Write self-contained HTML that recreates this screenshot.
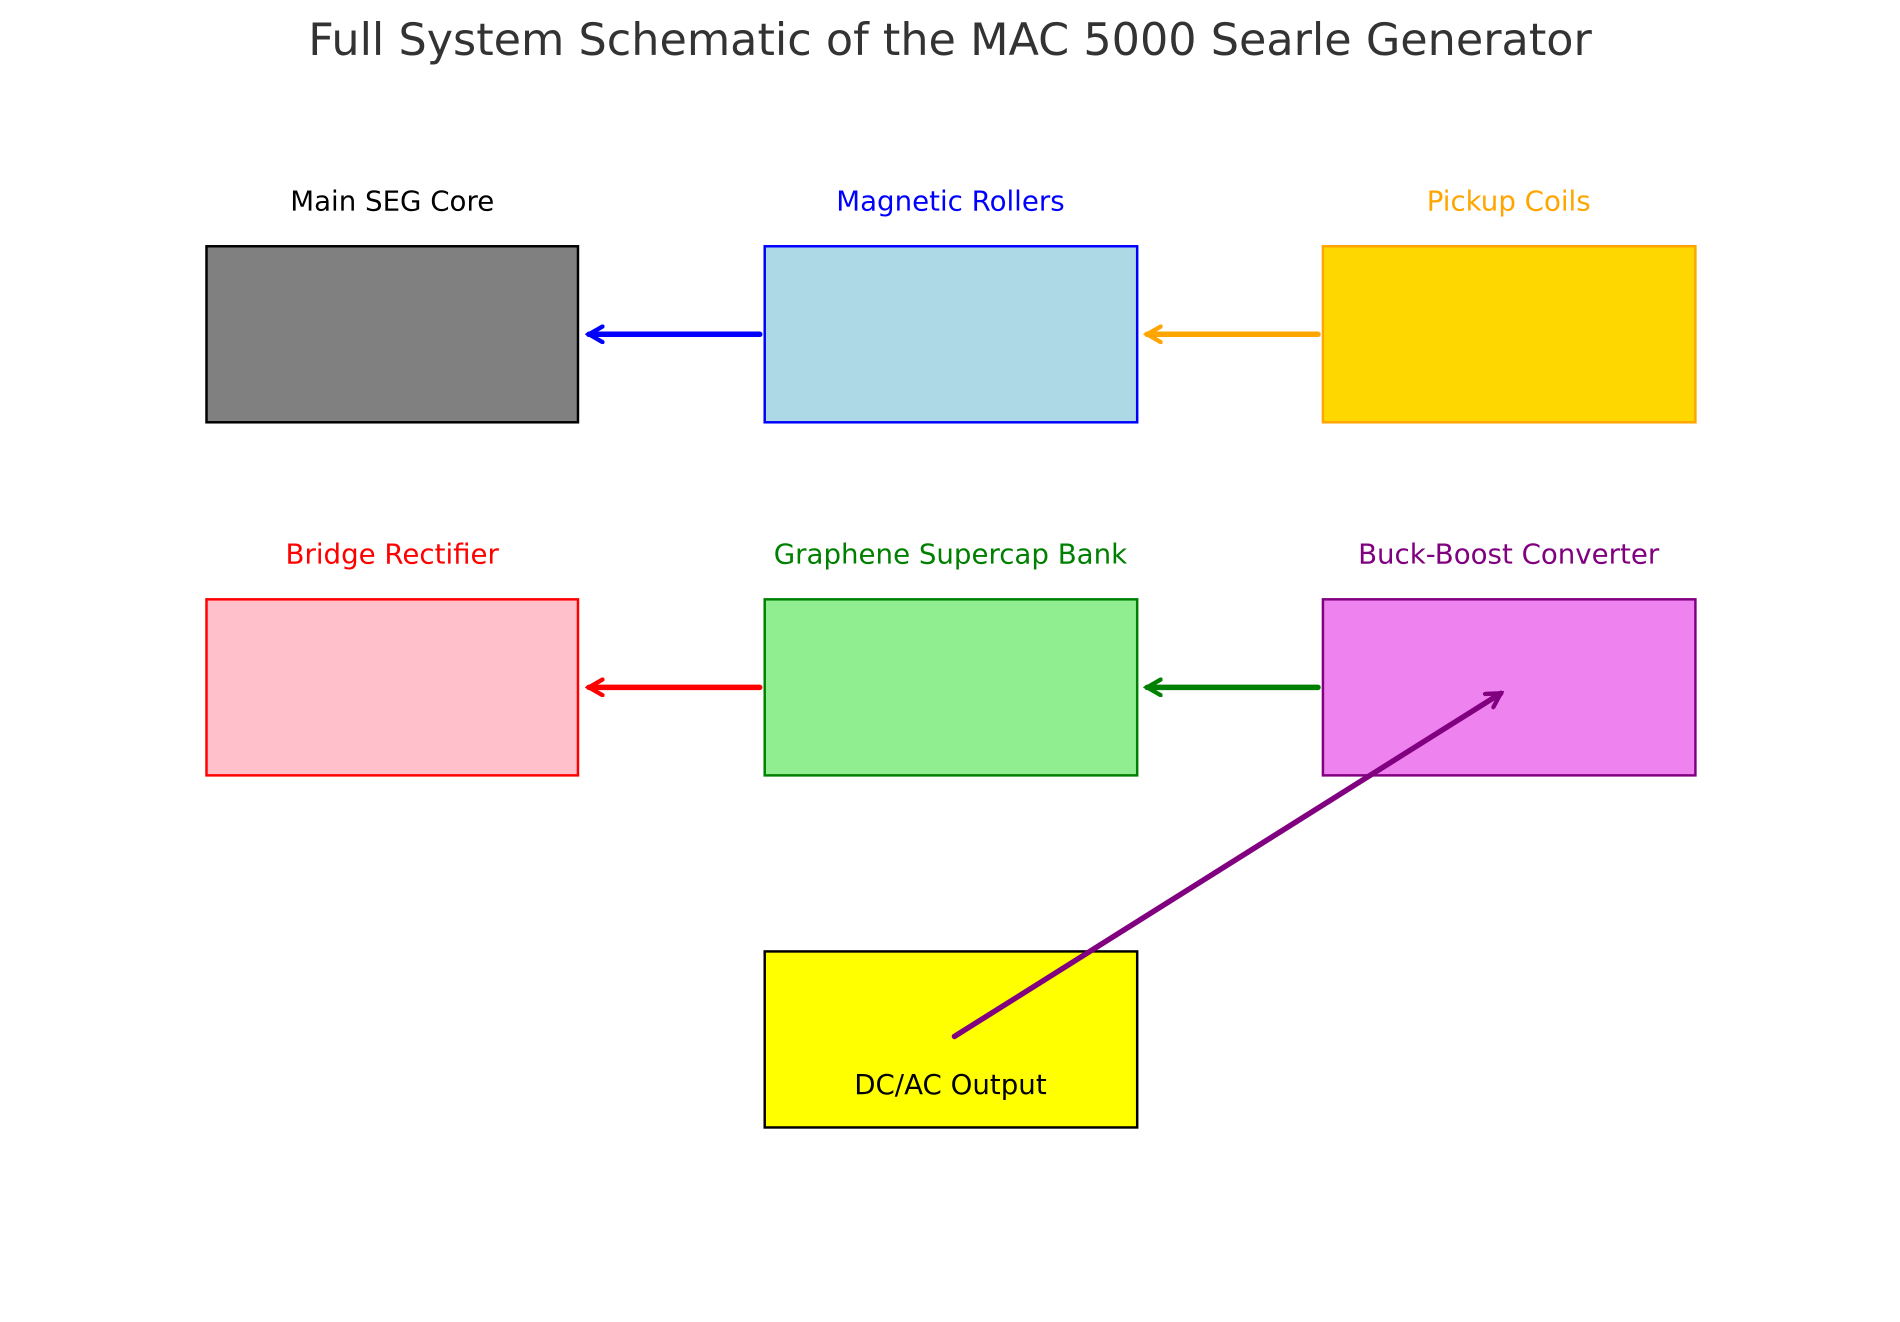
<!DOCTYPE html>
<html><head><meta charset="utf-8"><style>
html,body{margin:0;padding:0;background:#fff;}
svg{display:block;}
text{font-family:"DejaVu Sans","Liberation Sans",sans-serif;}
</style></head><body>
<svg width="1900" height="1322" viewBox="0 0 1900 1322" xmlns="http://www.w3.org/2000/svg">
<defs>
<marker id="a" viewBox="0 0 10 10" refX="8" refY="5" markerWidth="3.6" markerHeight="3.6" orient="auto"><path d="M1,1 L8,5 L1,9" fill="none" stroke="context-stroke" stroke-width="2.2" stroke-linecap="round"/></marker>
</defs>
<text x="950" y="55" font-size="44.5" fill="#333" text-anchor="middle">Full System Schematic of the MAC 5000 Searle Generator</text>
<g transform="scale(0.988,0.989)">
<g stroke-width="2.5">
<rect x="209" y="249" width="376" height="178" fill="#808080" stroke="#000"/>
<rect x="774" y="249" width="377" height="178" fill="#add8e6" stroke="#0000ff"/>
<rect x="1339" y="249" width="377" height="178" fill="#ffd700" stroke="#ffa500"/>
<rect x="209" y="606" width="376" height="178" fill="#ffc0cb" stroke="#ff0000"/>
<rect x="774" y="606" width="377" height="178" fill="#90ee90" stroke="#008000"/>
<rect x="1339" y="606" width="377" height="178" fill="#ee82ee" stroke="#800080"/>
<rect x="774" y="962" width="377" height="178" fill="#ffff00" stroke="#000"/>
</g>
<g font-size="28" text-anchor="middle">
<text x="397" y="213">Main SEG Core</text>
<text x="962" y="213" fill="#0000ff">Magnetic Rollers</text>
<text x="1527" y="213" fill="#ffa500">Pickup Coils</text>
<text x="397" y="570" fill="#ff0000">Bridge Rectifier</text>
<text x="962" y="570" fill="#008000">Graphene Supercap Bank</text>
<text x="1527" y="570" fill="#800080">Buck-Boost Converter</text>
<text x="962" y="1106">DC/AC Output</text>
</g>
<g stroke-width="5.5" stroke-linecap="round" fill="none">
<line x1="769" y1="338" x2="596" y2="338" stroke="#0000ff" marker-end="url(#a)"/>
<line x1="1334" y1="338" x2="1161" y2="338" stroke="#ffa500" marker-end="url(#a)"/>
<line x1="769" y1="695" x2="596" y2="695" stroke="#ff0000" marker-end="url(#a)"/>
<line x1="1334" y1="695" x2="1161" y2="695" stroke="#008000" marker-end="url(#a)"/>
<line x1="966" y1="1048" x2="1519" y2="701" stroke="#800080" marker-end="url(#a)"/>
</g>
</g>
</svg>
</body></html>
